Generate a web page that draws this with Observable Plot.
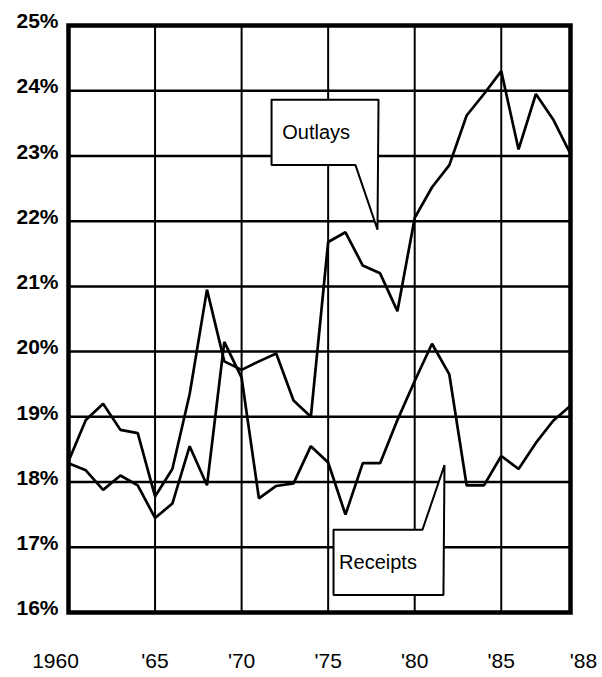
<!DOCTYPE html>
<html>
<head>
<meta charset="utf-8">
<script src="https://cdn.jsdelivr.net/npm/d3@7"></script>
<script src="https://cdn.jsdelivr.net/npm/@observablehq/plot@0.6"></script>
<style>
  html, body { margin: 0; padding: 0; background: #fff; }
  #chart { width: 602px; height: 677px; }
</style>
</head>
<body>
<div id="chart"></div>
<script>
// Years plotted (one point per year)
const years = [1960,1961,1962,1963,1964,1965,1966,1967,1968,1969,
               1970,1971,1972,1973,1974,1975,1976,1977,1978,1979,
               1980,1981,1982,1983,1984,1985,1986,1987,1988,1989];

// Outlays, %
const outlays = [18.32,18.95,19.20,18.80,18.75,17.78,18.20,19.35,20.95,19.85,
                 19.72,19.85,19.97,19.25,19.00,21.68,21.83,21.32,21.20,20.62,
                 22.05,22.52,22.86,23.62,23.95,24.30,23.10,23.95,23.56,23.03];

// Receipts, %
const receipts = [18.29,18.18,17.88,18.10,17.95,17.45,17.67,18.55,17.95,20.15,
                  19.60,17.75,17.94,17.98,18.55,18.30,17.50,18.29,18.29,18.95,
                  19.55,20.12,19.65,17.95,17.95,18.40,18.20,18.60,18.94,19.17];

// Axis ticks and labels
const yTicks = [16,17,18,19,20,21,22,23,24,25];
const xGridYears = [1965,1970,1975,1980,1985];
const xMidTicks = [1965,1970,1975,1980,1985];
const xMidLabels = ["'65","'70","'75","'80","'85"];
const xFirstLabel = "1960";
const xLastLabel = "'88";

// Callout annotations (data units): box corners, notch start, pointer tip
const calloutLabels = ["Outlays","Receipts"];
const calloutBoxX0 = [1971.73, 1975.31];
const calloutBoxX1 = [1977.91, 1980.45];
const calloutBoxYTop = [23.86, 17.27];
const calloutBoxYBottom = [22.86, 16.27];
const calloutTipX = [1977.85, 1981.72];
const calloutTipY = [21.87, 18.26];
const calloutNotchX = [1976.58, 1981.66];

const outlaysData = years.map((y, i) => ({year: y, pct: outlays[i]}));
const receiptsData = years.map((y, i) => ({year: y, pct: receipts[i]}));

// Build callout outlines
const calloutPts = [];
{
  const i = 0, L = calloutLabels[i];
  calloutPts.push(
    {label: L, x: calloutBoxX0[i], y: calloutBoxYTop[i]},
    {label: L, x: calloutBoxX1[i], y: calloutBoxYTop[i]},
    {label: L, x: calloutTipX[i], y: calloutTipY[i]},
    {label: L, x: calloutNotchX[i], y: calloutBoxYBottom[i]},
    {label: L, x: calloutBoxX0[i], y: calloutBoxYBottom[i]},
    {label: L, x: calloutBoxX0[i], y: calloutBoxYTop[i]}
  );
}
{
  const i = 1, L = calloutLabels[i];
  calloutPts.push(
    {label: L, x: calloutBoxX0[i], y: calloutBoxYTop[i]},
    {label: L, x: calloutBoxX1[i], y: calloutBoxYTop[i]},
    {label: L, x: calloutTipX[i], y: calloutTipY[i]},
    {label: L, x: calloutNotchX[i], y: calloutBoxYBottom[i]},
    {label: L, x: calloutBoxX0[i], y: calloutBoxYBottom[i]},
    {label: L, x: calloutBoxX0[i], y: calloutBoxYTop[i]}
  );
}
const calloutText = calloutLabels.map((L, i) => ({
  label: L,
  x: (calloutBoxX0[i] + (i === 0 ? calloutNotchX[i] : calloutBoxX1[i])) / 2 + (i === 0 ? 0.15 : 0),
  y: (calloutBoxYTop[i] + calloutBoxYBottom[i]) / 2
}));

const font = "'Liberation Sans', Arial, Helvetica, sans-serif";

const chart = Plot.plot({
  width: 602,
  height: 677,
  marginLeft: 68,
  marginRight: 32,
  marginTop: 25,
  marginBottom: 65,
  x: {domain: [1960, 1989]},
  y: {domain: [16, 25]},
  style: {fontFamily: font, background: "white", color: "black", overflow: "visible"},
  marks: [
    Plot.gridY({ticks: yTicks, stroke: "black", strokeOpacity: 1, strokeWidth: 2.5}),
    Plot.gridX({ticks: xGridYears, stroke: "black", strokeOpacity: 1, strokeWidth: 2}),
    Plot.line(calloutPts, {x: "x", y: "y", z: "label", fill: "white", stroke: "black", strokeWidth: 2, strokeLinejoin: "miter"}),
    Plot.text(calloutText, {x: "x", y: "y", text: "label", fontSize: 20, fill: "black"}),
    Plot.line(outlaysData, {x: "year", y: "pct", stroke: "black", strokeWidth: 2.7, strokeLinejoin: "miter"}),
    Plot.line(receiptsData, {x: "year", y: "pct", stroke: "black", strokeWidth: 2.7, strokeLinejoin: "miter"}),
    Plot.frame({stroke: "black", strokeWidth: 4.5}),
    Plot.axisY({ticks: yTicks, tickSize: 0, tickPadding: 10, tickFormat: d => d + "%", fontSize: 21, fontWeight: "bold", dy: -4}),
    Plot.axisX({ticks: xMidTicks, tickSize: 0, tickPadding: 41, tickFormat: d => xMidLabels[xMidTicks.indexOf(d)], fontSize: 21}),
    Plot.axisX({ticks: [1960], tickSize: 0, tickPadding: 41, tickFormat: () => xFirstLabel, fontSize: 21, dx: -13}),
    Plot.axisX({ticks: [1989], tickSize: 0, tickPadding: 41, tickFormat: () => xLastLabel, fontSize: 21, dx: 13})
  ]
});

document.getElementById("chart").appendChild(chart);
</script>
</body>
</html>
